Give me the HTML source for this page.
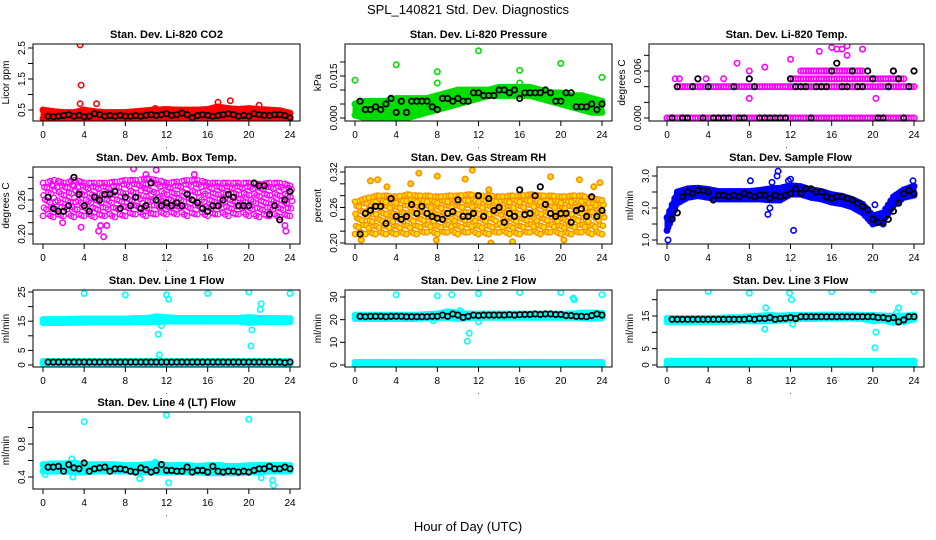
<!DOCTYPE html>
<html><head><meta charset="utf-8">
<style>
body{margin:0;background:#fff;}
svg{display:block;font-family:"Liberation Sans",sans-serif;}
</style></head>
<body>
<svg id="chart" width="936" height="540" viewBox="0 0 936 540" xmlns="http://www.w3.org/2000/svg">
<rect width="936" height="540" fill="#fff"/>
<text x="468" y="14" text-anchor="middle" font-size="13">SPL_140821  Std. Dev. Diagnostics</text>
<text x="468" y="531" text-anchor="middle" font-size="13">Hour of Day (UTC)</text>
</svg>
<script>
// ---- data arrays (hours 0..24 for band arrays; black series at 0.5..24 step 0.5) ----
const xTicks = [0,4,8,12,16,20,24];

const co2BandLo = [0.22,0.22,0.22,0.22,0.22,0.22,0.22,0.22,0.22,0.22,0.22,0.22,0.22,0.22,0.22,0.22,0.22,0.22,0.22,0.22,0.22,0.22,0.22,0.22,0.22];
const co2BandHi = [0.5,0.45,0.42,0.42,0.5,0.45,0.42,0.42,0.42,0.45,0.48,0.5,0.52,0.5,0.5,0.5,0.52,0.6,0.55,0.52,0.55,0.52,0.5,0.48,0.4];
const co2Outliers = [[3.6,2.6],[3.7,1.3],[3.6,0.7],[5.2,0.7],[17,0.75],[18.2,0.8],[21,0.65],[10.9,0.55]];
const co2Black = [0.3,0.28,0.3,0.32,0.35,0.3,0.33,0.28,0.3,0.38,0.35,0.3,0.32,0.3,0.33,0.3,0.3,0.32,0.3,0.33,0.35,0.32,0.35,0.38,0.33,0.35,0.4,0.35,0.25,0.32,0.35,0.33,0.3,0.32,0.35,0.38,0.35,0.3,0.33,0.3,0.38,0.35,0.33,0.32,0.35,0.35,0.32,0.25];

const presBandLo = [0.001,0,0,0,0,0,0.001,0.002,0.003,0.004,0.005,0.006,0.007,0.008,0.008,0.008,0.008,0.008,0.007,0.006,0.005,0.004,0.003,0.002,0.002];
const presBandHi = [0.005,0.006,0.006,0.006,0.007,0.007,0.007,0.007,0.008,0.009,0.01,0.01,0.01,0.01,0.011,0.011,0.011,0.011,0.01,0.009,0.009,0.008,0.008,0.007,0.006];
const presOutliers = [[0,0.0135],[4,0.019],[8,0.0165],[8,0.0125],[12,0.024],[16,0.017],[16,0.0125],[20,0.0195],[24,0.0145]];
const presBlack = [0.006,0.003,0.003,0.004,0.003,0.005,0.007,0.002,0.006,0.002,0.006,0.006,0.006,0.006,0.004,0.003,0.007,0.007,0.006,0.007,0.006,0.006,0.009,0.009,0.008,0.008,0.008,0.01,0.01,0.009,0.01,0.007,0.009,0.009,0.009,0.009,0.01,0.009,0.006,0.006,0.009,0.009,0.004,0.004,0.004,0.005,0.003,0.005];

const N = null;
const liTempLevel0 = [0,0,0,0,0,0,0,0,0,0,0,0,0,0,0,0,0,0,0,0,0,0,0,0,0];
const liTempLevel1 = [N,0.004,0.004,0.004,0.004,0.004,0.004,0.004,0.004,0.004,0.004,0.004,0.004,0.004,0.004,0.004,0.004,0.004,0.004,0.004,0.004,0.004,0.004,0.004,0.004];
const liTempLevel2 = [N,N,N,N,N,N,N,N,N,N,N,N,0.005,0.005,0.005,0.005,0.005,0.005,0.005,0.005,0.005,0.005,0.005,0.005,N];
const liTempLevel3 = [N,N,N,N,N,N,N,N,N,N,N,N,N,0.006,0.006,0.006,0.006,0.006,0.006,0.006,N,N,N,N,N];
const liTempOutliers = [[0.8,0.005],[5.5,0.005],[6.8,0.007],[8,0.006],[8,0.0025],[9.5,0.0065],[12,0.0075],[14.8,0.0085],[16,0.009],[17.5,0.0092],[19,0.0088],[17.5,0.008],[20.3,0.0025],[22,0.006],[3.8,0.005],[1.2,0.005],[16.5,0.0088],[17,0.0088]];
const liTempBlack = [0,0.004,0,0,0.004,0.005,0,0.004,0,0,0,0,0.004,0,0,0.005,0.004,0,0,0,0,0,0,0.005,0.004,0.004,0.004,0,0.004,0.004,0.004,0.006,0.007,0.004,0.004,0.006,0.004,0.004,0.006,0.005,0,0,0.004,0.006,0.005,0,0.004,0.006];

const ambBandLo = [0.232,0.23,0.232,0.23,0.232,0.23,0.232,0.23,0.232,0.235,0.232,0.235,0.235,0.235,0.232,0.235,0.232,0.235,0.232,0.235,0.232,0.23,0.232,0.23,0.232];
const ambBandHi = [0.29,0.295,0.29,0.295,0.29,0.29,0.29,0.292,0.295,0.295,0.298,0.295,0.29,0.292,0.295,0.295,0.29,0.29,0.29,0.29,0.29,0.288,0.29,0.29,0.285];
const ambOutliers = [[3.7,0.212],[5.4,0.205],[5.6,0.215],[5.9,0.195],[8.8,0.315],[11.0,0.313],[23.6,0.205],[1.9,0.22],[23.5,0.215],[6.2,0.215],[10,0.305],[14.7,0.305]];
const ambBlack = [0.265,0.245,0.24,0.24,0.25,0.30,0.27,0.25,0.24,0.265,0.26,0.27,0.27,0.275,0.245,0.265,0.25,0.265,0.245,0.25,0.29,0.26,0.25,0.255,0.25,0.255,0.25,0.27,0.26,0.255,0.245,0.24,0.25,0.25,0.26,0.27,0.265,0.25,0.25,0.25,0.29,0.285,0.285,0.235,0.25,0.225,0.26,0.275];

const rhBandLo = [0.215,0.215,0.215,0.215,0.215,0.215,0.215,0.218,0.215,0.218,0.215,0.218,0.215,0.215,0.218,0.215,0.215,0.218,0.215,0.218,0.215,0.215,0.218,0.215,0.215];
const rhBandHi = [0.27,0.275,0.28,0.28,0.278,0.282,0.28,0.28,0.278,0.28,0.28,0.282,0.28,0.28,0.278,0.28,0.28,0.282,0.28,0.28,0.278,0.28,0.28,0.275,0.272];
const rhOutliers = [[1.5,0.305],[2.2,0.307],[6.2,0.318],[8.0,0.313],[11.4,0.323],[10.7,0.308],[13,0.29],[19,0.312],[21.8,0.307],[23.8,0.302],[23.2,0.295],[3.1,0.295],[5.4,0.3],[0.6,0.205],[7.9,0.205],[15.3,0.202],[20.3,0.205],[13.2,0.2]];
const rhBlack = [0.215,0.25,0.255,0.262,0.262,0.233,0.275,0.245,0.24,0.245,0.265,0.25,0.262,0.25,0.245,0.242,0.24,0.25,0.253,0.273,0.245,0.245,0.25,0.28,0.245,0.275,0.255,0.26,0.235,0.25,0.245,0.29,0.248,0.25,0.28,0.295,0.265,0.25,0.245,0.25,0.25,0.235,0.255,0.258,0.245,0.278,0.245,0.255];

const flowBandLo = [1.3,2.15,2.33,2.38,2.33,2.28,2.28,2.28,2.28,2.28,2.25,2.25,2.43,2.43,2.33,2.28,2.18,2.13,2.03,1.85,1.5,1.6,2.08,2.33,2.4];
const flowBandHi = [1.7,2.5,2.6,2.62,2.58,2.52,2.52,2.52,2.52,2.55,2.6,2.62,2.7,2.67,2.57,2.52,2.42,2.37,2.27,2.12,1.75,1.85,2.35,2.57,2.68];
const flowOutliers = [[0.1,1.0],[0.1,1.4],[10.8,3.15],[10.7,3.0],[12.3,1.3],[8.1,2.85],[10.2,2.8],[9.8,1.8],[10.0,2.0],[20.2,2.1],[21.0,1.5],[23.9,2.85],[11.8,2.85],[12,2.9]];
const flowBlack = [1.65,1.85,2.35,2.5,2.45,2.55,2.55,2.5,2.25,2.4,2.4,2.35,2.4,2.35,2.45,2.4,2.35,2.4,2.4,2.3,2.4,2.35,2.4,2.45,2.6,2.45,2.6,2.6,2.5,2.5,2.35,2.3,2.35,2.35,2.3,2.25,2.15,2.05,1.95,1.65,1.55,1.55,1.65,1.9,2.15,2.45,2.55,2.45];

const line1BandLo = [14.5,14.5,14.5,14.6,14.6,14.7,14.7,14.7,14.7,14.8,14.8,14.8,15,15,15,15,15,15,15,15,14.5,14.8,14.8,14.8,14.8];
const line1BandHi = [15.6,15.6,15.6,15.7,15.8,15.8,15.8,15.8,15.8,15.9,16,16.5,16.3,16,16,16,16,16,16,16,16.3,16,16,15.9,15.9];
const line1LowLo = [0.5,0.5,0.5,0.5,0.5,0.5,0.5,0.5,0.5,0.5,0.5,0.5,0.5,0.5,0.5,0.5,0.5,0.5,0.5,0.5,0.5,0.5,0.5,0.5,0.5];
const line1LowHi = [1.2,1.2,1.2,1.2,1.2,1.2,1.2,1.2,1.2,1.2,1.2,1.2,1.2,1.2,1.2,1.2,1.2,1.2,1.2,1.2,1.2,1.2,1.2,1.2,1.2];
const line1Outliers = [[4,24.5],[8,24],[12,24],[12.2,22.5],[16,24.5],[20,25],[24,24.5],[11.2,10.5],[11.3,3.5],[20.2,6.5],[20.3,12],[21.2,21],[21.1,19],[11.5,13.5]];
const line1Black = [1,1,1,1,1,1,1,1,1,1,1,1,1,1,1,1,1,1,1,1,1,1,1,1,1,1,1,1,1,1,1,1,1,1,1,1,1,1,1,1,1,1,1,1,1,1,0.8,1];

const line2BandLo = [20.5,20.5,20.5,20.5,20.5,20.5,20.5,20.8,20.8,21,20.5,20.8,21,21,21,21,21,21,21,21,21,21,20.8,20.5,20.8];
const line2BandHi = [22,22,22,22,22,22,22,22.3,22.5,23.5,23,22.5,22.5,22.5,22.5,22.5,22.5,22.5,22.5,22.5,22.5,22.5,23,23,22.8];
const line2LowLo = [0,0,0,0,0,0,0,0,0,0,0,0,0,0,0,0,0,0,0,0,0,0,0,0,0];
const line2LowHi = [1.2,1.2,1.2,1.2,1.2,1.2,1.2,1.2,1.2,1.2,1.2,1.2,1.2,1.2,1.2,1.2,1.2,1.2,1.2,1.2,1.2,1.2,1.2,1.2,1.2];
const line2Outliers = [[4,31],[8,30.5],[9.4,31],[12,31.5],[16,32],[20,32],[21.2,29.5],[21.3,28.8],[24,31],[10.9,10.5],[11.1,14],[12,19],[10.2,24],[7.6,19.5]];
const line2Black = [21.5,21.3,21.5,21.5,21.5,21.3,21.5,21.5,21.5,21.3,21.3,21.3,21.3,21.3,21.5,21.5,22,21.5,22.5,22,21,21.5,22,21.8,22,22,22,22,22,22.2,22,22.2,22.3,22.3,22.5,22.3,22.5,22.5,22.3,22.3,21.8,21.8,21.5,21.5,21.3,21.8,22.5,22];

const line3BandLo = [13.2,13.2,13.2,13.3,13.3,13.3,13.3,13.5,13.5,13.5,13.5,13.7,14,14.2,14.2,14.3,14.3,14.3,14.3,14.2,13.5,13.8,13,13.3,14];
const line3BandHi = [14.3,14.2,14.2,14.3,14.3,14.3,14.5,14.5,14.8,15,15.2,15,15.2,15.2,15.2,15.3,15.3,15.3,15.3,15.2,15.2,15,15,15,15.3];
const line3LowLo = [0,0,0,0,0,0,0,0,0,0,0,0,0,0,0,0,0,0,0,0,0,0,0,0,0];
const line3LowHi = [1.2,1.2,1.2,1.2,1.2,1.2,1.2,1.2,1.2,1.2,1.2,1.2,1.2,1.2,1.2,1.2,1.2,1.2,1.2,1.2,1.2,1.2,1.2,1.2,1.2];
const line3Outliers = [[4,22.5],[8,22],[9.6,17.5],[9.5,11],[11.9,22],[12.1,20],[16,22.5],[20,23],[20.2,5.3],[20.3,10],[22.5,17.5],[22.3,16],[24,22.5],[12.2,12.5]];
const line3Black = [14,14,14,14,14,14,14,14,14,14,14,14,14,14,14,14.2,14,14.3,14.2,14.5,14,14.2,14.3,14.5,14.2,14.8,14.8,14.8,14.8,14.8,14.8,14.8,14.8,14.8,14.8,14.8,14.8,14.8,14.8,14.8,14.5,14.5,14.2,14.5,13.2,13.8,14.8,14.8];

const line4BandLo = [0.47,0.47,0.47,0.46,0.46,0.47,0.47,0.47,0.47,0.46,0.46,0.46,0.46,0.46,0.46,0.46,0.45,0.45,0.45,0.45,0.46,0.46,0.47,0.47,0.47];
const line4BandHi = [0.55,0.56,0.56,0.57,0.55,0.55,0.55,0.55,0.54,0.54,0.55,0.56,0.54,0.54,0.54,0.53,0.54,0.54,0.53,0.53,0.54,0.54,0.54,0.54,0.54];
const line4Outliers = [[4,1.07],[12,1.15],[20,1.1],[12.2,0.33],[22.3,0.36],[22.4,0.3],[2.8,0.62],[10.9,0.58],[9.4,0.38],[0.2,0.43],[2.9,0.4],[21.2,0.39]];
const line4Black = [0.52,0.52,0.53,0.47,0.55,0.51,0.5,0.57,0.47,0.5,0.51,0.52,0.47,0.5,0.5,0.49,0.47,0.46,0.51,0.49,0.46,0.48,0.55,0.48,0.48,0.47,0.47,0.52,0.46,0.48,0.48,0.46,0.53,0.47,0.46,0.47,0.47,0.46,0.47,0.46,0.48,0.5,0.5,0.53,0.5,0.5,0.52,0.5];

// ---- panel layout (geometry only) ----
const C1 = {L:33,R:300,x0:43,x24:290}, C2 = {L:345,R:612,x0:355,x24:602}, C3 = {L:657,R:924,x0:667,x24:914};
const R1 = {T:44,B:121}, R2 = {T:167,B:244}, R3 = {T:290,B:367}, R4 = {T:412,B:489};

const panels = [
 {name:'co2', title:'Stan. Dev. Li-820 CO2', ylab:'Licor ppm', c:C1, r:R1, yA:[0.5,110], yB:[2.5,48],
  ticks:[0.5,1,1.5,2,2.5], labels:['0.5','1.5','2.5'], color:'#ff0000', bands:[[co2BandLo,co2BandHi]], out:co2Outliers, black:co2Black},
 {name:'pressure', title:'Stan. Dev. Li-820 Pressure', ylab:'kPa', c:C2, r:R1, yA:[0,118], yB:[0.015,76],
  ticks:[0,0.005,0.01,0.015,0.02], labels:['0.000','0.015'], color:'#00dd00', bands:[[presBandLo,presBandHi]], out:presOutliers, black:presBlack},
 {name:'li-temp', title:'Stan. Dev. Li-820 Temp.', ylab:'degrees C', c:{L:649,R:924,x0:667,x24:914}, r:R1, yA:[0,118], yB:[0.006,71],
  ticks:[0,0.002,0.004,0.006,0.008], labels:['0.000','0.006'], color:'#ff00ff', bands:[[liTempLevel0,liTempLevel0],[liTempLevel1,liTempLevel1],[liTempLevel2,liTempLevel2],[liTempLevel3,liTempLevel3]], out:liTempOutliers, black:liTempBlack, noFill:true},
 {name:'amb-temp', title:'Stan. Dev. Amb. Box Temp.', ylab:'degrees C', c:C1, r:R2, yA:[0.20,234], yB:[0.26,200],
  ticks:[0.20,0.22,0.24,0.26,0.28,0.30], labels:['0.20','0.26'], color:'#ff00ff', bands:[[ambBandLo,ambBandHi]], out:ambOutliers, black:ambBlack, sparse:true},
 {name:'gas-rh', title:'Stan. Dev. Gas Stream RH', ylab:'percent', c:C2, r:R2, yA:[0.20,243], yB:[0.32,172],
  ticks:[0.20,0.22,0.24,0.26,0.28,0.30,0.32], labels:['0.20','0.26','0.32'], color:'#ff8c00', fill:'#ffe000', bands:[[rhBandLo,rhBandHi]], out:rhOutliers, black:rhBlack, sparse:true},
 {name:'sample-flow', title:'Stan. Dev. Sample Flow', ylab:'ml/min', c:C3, r:R2, yA:[1.0,240], yB:[3.0,176],
  ticks:[1.0,1.5,2.0,2.5,3.0], labels:['1.0','2.0','3.0'], color:'#0000ff', bands:[[flowBandLo,flowBandHi]], out:flowOutliers, black:flowBlack},
 {name:'line1-flow', title:'Stan. Dev. Line 1 Flow', ylab:'ml/min', c:C1, r:R3, yA:[0,365], yB:[25,292],
  ticks:[0,5,10,15,20,25], labels:['0','5','15','25'], color:'#00ffff', bands:[[line1BandLo,line1BandHi],[line1LowLo,line1LowHi]], out:line1Outliers, black:line1Black},
 {name:'line2-flow', title:'Stan. Dev. Line 2 Flow', ylab:'ml/min', c:C2, r:R3, yA:[0,365], yB:[30,297],
  ticks:[0,10,20,30], labels:['0','10','20','30'], color:'#00ffff', bands:[[line2BandLo,line2BandHi],[line2LowLo,line2LowHi]], out:line2Outliers, black:line2Black},
 {name:'line3-flow', title:'Stan. Dev. Line 3 Flow', ylab:'ml/min', c:C3, r:R3, yA:[0,365], yB:[15,316],
  ticks:[0,5,10,15,20], labels:['0','5','15'], color:'#00ffff', bands:[[line3BandLo,line3BandHi],[line3LowLo,line3LowHi]], out:line3Outliers, black:line3Black},
 {name:'line4-flow', title:'Stan. Dev. Line 4 (LT) Flow', ylab:'ml/min', c:C1, r:R4, yA:[0.4,477], yB:[0.8,444],
  ticks:[0.4,0.6,0.8,1.0], labels:['0.4','0.8'], color:'#00ffff', bands:[[line4BandLo,line4BandHi]], out:line4Outliers, black:line4Black}
];

const svg = document.getElementById('chart');
const NS = 'http://www.w3.org/2000/svg';
function mk(tag, attrs, parent){ const e=document.createElementNS(NS,tag); for(const k in attrs) e.setAttribute(k,attrs[k]); parent.appendChild(e); return e; }

panels.forEach(p=>{
  const g = mk('g',{},svg);
  
  
  const xs = h => p.c.x0 + (p.c.x24-p.c.x0)*h/24;
  const ys = v => p.yA[1] + (v-p.yA[0])*(p.yB[1]-p.yA[1])/(p.yB[0]-p.yA[0]);
  const L=p.c.L, R=p.c.R, T=p.r.T, B=p.r.B;
  const clipId='clip-'+p.name;
  const cp = mk('clipPath',{id:clipId},g); mk('rect',{x:L,y:T,width:R-L,height:B-T},cp);
  const marks = mk('g',{'clip-path':'url(#'+clipId+')'},g);
  
  
  const fillC = p.fill || 'none';
  function circ(h,v,col,fc,sw,parent){ return mk('circle',{cx:xs(h).toFixed(1),cy:ys(v).toFixed(1),r:2.7,fill:fc,stroke:col,'stroke-width':sw},parent); }
  p.bands.forEach((bd,bi)=>{
    const lo=bd[0], hi=bd[1];
    const bg = mk('g',{},marks);
    
    
    let seg=[]; const segs=[];
    for(let i=0;i<lo.length;i++){ if(lo[i]===null){ if(seg.length) segs.push(seg); seg=[]; } else seg.push(i); }
    if(seg.length) segs.push(seg);
    segs.forEach(s=>{
      if(!p.noFill && !p.sparse){
        let pts=s.map(i=>xs(i).toFixed(1)+','+ys(hi[i]).toFixed(1));
        pts=pts.concat(s.slice().reverse().map(i=>xs(i).toFixed(1)+','+ys(lo[i]).toFixed(1)));
        mk('polygon',{points:pts.join(' '),fill:p.color,stroke:p.color,'stroke-width':5,'stroke-linejoin':'round'},bg);
      }
      for(let k=0;k<s.length;k++){
        const i=s[k]; const j = k+1<s.length ? s[k+1] : i;
        const steps = j>i ? (p.sparse?3:4) : 1;
        for(let q=0;q<steps;q++){
          const f=q/steps, h=i+f*(j-i);
          const l=lo[i]+(lo[j]-lo[i])*f, u=hi[i]+(hi[j]-hi[i])*f;
          if(p.sparse){
            const pl=ys(l), pu=ys(u); const n=Math.max(1,Math.round((pl-pu)/6.5));
            for(let m=0;m<=n;m++){
              const sh=((m*7+q*3+i*5)%5)/5;
              const v=l+(u-l)*Math.min(1,(m+sh*0.6)/n);
              circ(h+sh*0.25,v,p.color,fillC,1.3,bg);
            }
          } else {
            circ(h,l,p.color,fillC,1.5,bg); circ(h,u,p.color,fillC,1.5,bg);
          }
        }
      }
    });
  });
  p.out.forEach(o=>{ const c=circ(o[0],o[1],p.color,fillC,1.6,marks);
    
     });
  p.black.forEach((v,i)=>{ const c=circ(0.5+i*0.5,v,'#000','none',1.8,marks);
    
     });
  const box = mk('rect',{x:L,y:T,width:R-L,height:B-T,fill:'none',stroke:'#000','stroke-width':1},g);
  
  
  const xa = mk('g',{},g);
  
  
  mk('line',{x1:xs(0),x2:xs(24),y1:B,y2:B,stroke:'#000'},xa);
  xTicks.forEach(t=>{ mk('line',{x1:xs(t),x2:xs(t),y1:B,y2:B+5,stroke:'#000'},xa);
    const tx=mk('text',{x:xs(t),y:B+17,'text-anchor':'middle','font-size':10},xa); tx.textContent=t; });
  const dot=mk('text',{x:(L+R)/2,y:B+27,'text-anchor':'middle','font-size':8},xa); dot.textContent='.';
  const ya = mk('g',{},g);
  
  
  mk('line',{x1:L,x2:L,y1:ys(p.ticks[0]),y2:ys(p.ticks[p.ticks.length-1]),stroke:'#000'},ya);
  p.ticks.forEach(t=>{ mk('line',{x1:L-5,x2:L,y1:ys(t),y2:ys(t),stroke:'#000'},ya); });
  p.labels.forEach(lb=>{ const y=ys(parseFloat(lb));
    const tx=mk('text',{x:L-8,y:y,'text-anchor':'middle','font-size':10,transform:'rotate(-90 '+(L-8)+' '+y+')'},ya); tx.textContent=lb; });
  const yl=mk('text',{x:L-24,y:(T+B)/2,'text-anchor':'middle','font-size':10,transform:'rotate(-90 '+(L-24)+' '+((T+B)/2)+')'},ya);
  yl.textContent=p.ylab;
  
  
  const tt=mk('text',{x:(L+R)/2,y:T-6,'text-anchor':'middle','font-size':11,'font-weight':'bold'},g);
  tt.textContent=p.title;
  
  
});
</script>
</body></html>
